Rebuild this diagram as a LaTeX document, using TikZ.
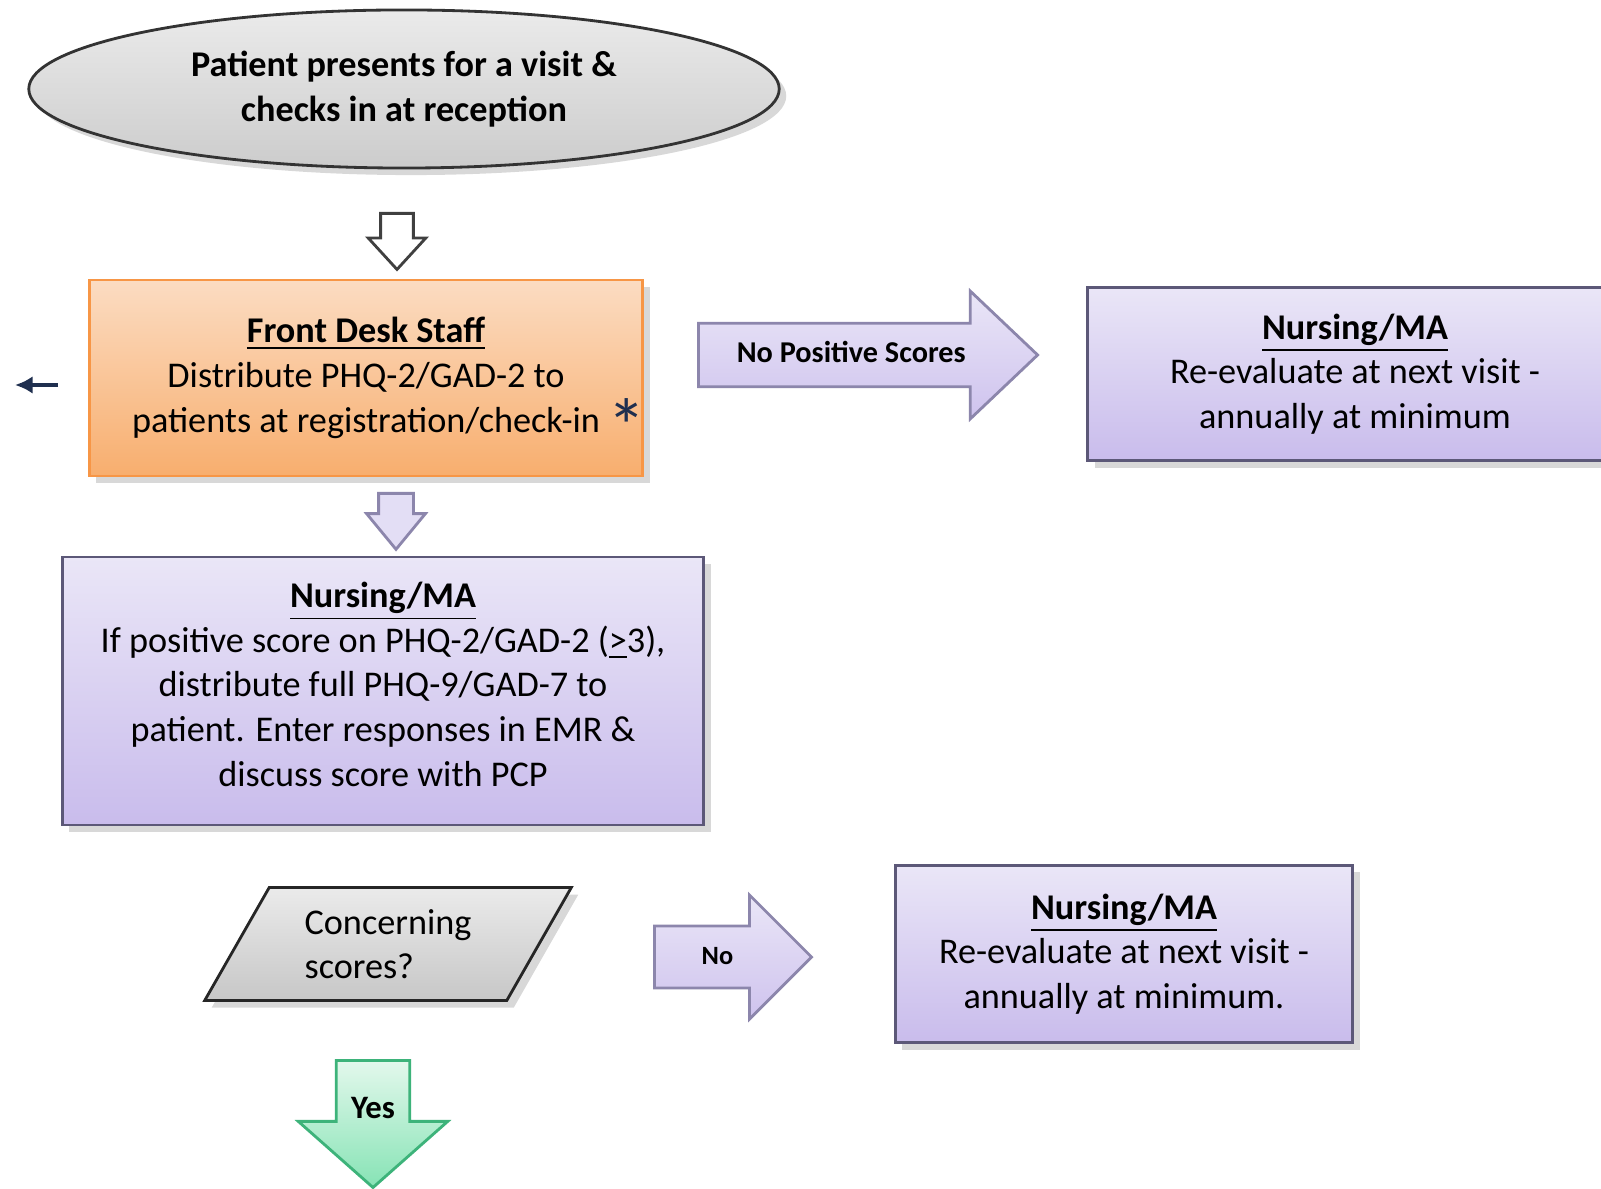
\documentclass[tikz,border=0pt]{standalone}
\usepackage{fontspec}
\setmainfont{Carlito}
\usetikzlibrary{shapes.geometric,shapes.arrows,shadows,arrows.meta}

\definecolor{orgline}{HTML}{F79646}
\definecolor{orgtop}{HTML}{FBDCC2}
\definecolor{orgbot}{HTML}{F8AE6E}
\definecolor{lavline}{HTML}{5C5878}
\definecolor{lavtop}{HTML}{EAE6F7}
\definecolor{lavbot}{HTML}{C9BCEC}
\definecolor{arrline}{HTML}{8C86AC}
\definecolor{grnline}{HTML}{3DB37A}
\definecolor{grntop}{HTML}{E3F8EC}
\definecolor{grnbot}{HTML}{86E3B5}
\definecolor{navy}{HTML}{1F2F4F}

\begin{document}
\begin{tikzpicture}[x=0.01cm, y=-0.01cm,
    txt/.style={font=\fontsize{10.3}{12.7}\selectfont, align=center, inner sep=0pt},
    shad/.style={drop shadow={opacity=0.3, shadow xshift=2pt, shadow yshift=-2pt}},
    startnode/.style={txt, ellipse, draw=black!80, thick, top color=black!8, bottom color=black!20, shad, font=\fontsize{10.3}{12.7}\selectfont\bfseries},
    deskbox/.style={txt, draw=orgline, thick, top color=orgtop, bottom color=orgbot, shad},
    nursebox/.style={txt, draw=lavline, thick, top color=lavtop, bottom color=lavbot, shad},
    askbox/.style={txt, trapezium, trapezium left angle=57, trapezium right angle=123, trapezium stretches=true, draw=black!85, thick, top color=black!8, bottom color=black!22, shad, align=left},
    blockarr/.style={single arrow, inner sep=0pt, thick, anchor=tail},
    hollowarr/.style={blockarr, draw=black!75, fill=white, shape border rotate=270},
    lavarr/.style={blockarr, draw=arrline, top color=lavtop, bottom color=lavbot!90, font=\fontsize{8.6}{10}\selectfont\bfseries, text height=6pt, text depth=2pt},
    yesarr/.style={blockarr, draw=grnline, top color=grntop, bottom color=grnbot, shape border rotate=270, font=\fontsize{9.3}{11}\selectfont\bfseries}
]
\clip (0,0) rectangle (1601,1189);
\fill[white] (0,0) rectangle (1601,1189);

% first step
\node[startnode, minimum width=7.5cm, minimum height=1.58cm] (patient) at (404,89)
  {Patient presents for a visit \&\\checks in at reception};
\node[hollowarr, inner sep=4.25pt, minimum height=0.56cm, single arrow head extend=0.125cm, single arrow tip angle=85] (down1) at (397,212) {};

\node[deskbox, minimum width=5.53cm, minimum height=1.96cm] (desk) at (366,378)
  {\underline{\textbf{Front Desk Staff}}\\Distribute PHQ-2/GAD-2 to\\patients at registration/check-in};
\node[text=navy, font=\fontsize{22}{22}\selectfont, inner sep=0pt] (star) at (627,426) {*};
\coordinate (leftA) at (58,385);
\coordinate (leftB) at (15,385);
\draw[navy, line width=1pt, -{Latex[length=5pt,width=5pt]}] (leftA) -- (leftB);

% no positive scores
\node[lavarr, inner ysep=4.65pt, minimum height=3.39cm, single arrow head extend=0.32cm, single arrow tip angle=87] (noposarr) at (697,355) {No Positive Scores};
\node[nursebox, minimum width=5.34cm, minimum height=1.73cm] (recheck1) at (1355,374)
  {\underline{\textbf{Nursing/MA}}\\Re-evaluate at next visit -\\annually at minimum};

% positive scores
\node[hollowarr, draw=arrline, fill=lavtop!80!lavbot, inner sep=4.55pt, minimum height=0.55cm, single arrow head extend=0.12cm, single arrow tip angle=79] (down2) at (396,492) {};
\node[nursebox, minimum width=6.41cm, minimum height=2.68cm, text depth=0.14cm] (nurse) at (383,691)
  {\underline{\textbf{Nursing/MA}}\\If positive score on PHQ-2/GAD-2 (\underline{>}3),\\distribute full PHQ-9/GAD-7 to\\patient. Enter responses in EMR \&\\discuss score with PCP};

% decision
\node[askbox, minimum width=3.68cm, minimum height=1.13cm] (ask) at (388,944)
  {Concerning\\scores?};
\node[lavarr, inner ysep=4.9pt, text height=5.5pt, text depth=1.5pt, minimum height=1.57cm, single arrow head extend=0.31cm, single arrow tip angle=90, font=\fontsize{7.5}{9}\selectfont\bfseries] (noarr) at (653,957) {No};
\node[nursebox, minimum width=4.57cm, minimum height=1.77cm] (recheck2) at (1124,954)
  {\underline{\textbf{Nursing/MA}}\\Re-evaluate at next visit -\\annually at minimum.};
\node[yesarr, inner sep=3.8pt, minimum height=1.27cm, single arrow head extend=0.38cm, single arrow tip angle=97] (yesarr) at (373,1059) {Yes};
\end{tikzpicture}
\end{document}
